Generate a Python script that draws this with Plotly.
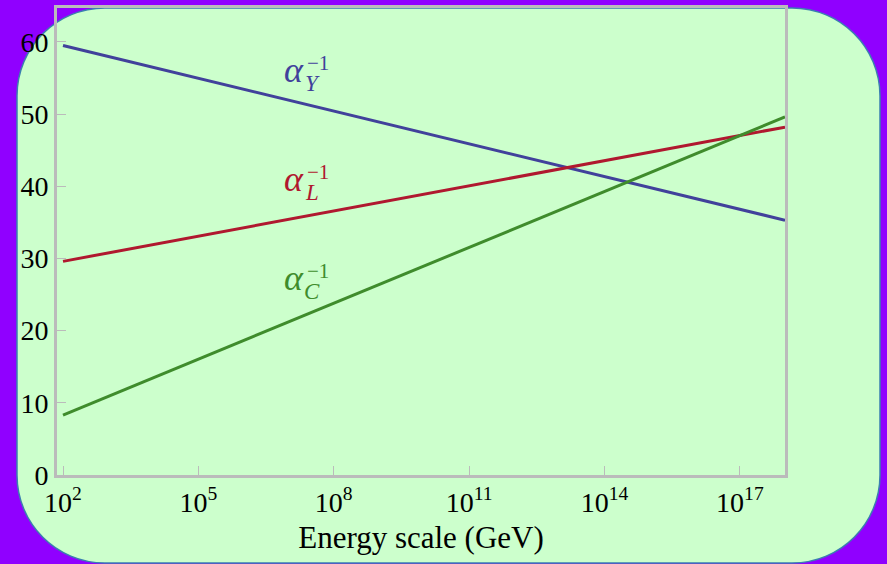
import plotly.graph_objects as go

# ---- data ----
energy = [1e2, 1e18]
alpha_Y_inv = [59.5, 35.3]
alpha_L_inv = [29.6, 48.2]
alpha_C_inv = [8.3, 49.6]
x_tick_vals = [1e2, 1e5, 1e8, 1e11, 1e14, 1e17]
x_tick_text = ["10<sup>2</sup>", "10<sup>5</sup>", "10<sup>8</sup>",
               "10<sup>11</sup>", "10<sup>14</sup>", "10<sup>17</sup>"]
y_tick_vals = [0, 10, 20, 30, 40, 50, 60]

W, H = 887, 564
L, R, T, B = 57, 785, 8, 475  # plot area in pixels
FONT = "Liberation Serif"

def px(x):
    return (x - L) / (R - L)

def py(y):
    return (B - y) / (B - T)

BLUE = "#41419b"
RED = "#b0182f"
GREEN = "#3f8c2c"

fig = go.Figure()
for ys, c in [(alpha_Y_inv, BLUE), (alpha_L_inv, RED), (alpha_C_inv, GREEN)]:
    fig.add_trace(go.Scatter(x=energy, y=ys, mode="lines",
                             line=dict(color=c, width=3), showlegend=False,
                             hoverinfo="skip"))

# rounded background panel
x0, x1, y0, y1, r = 17, 880, 8, 563, 88
k = 0.5523 * r
def P(x, y):
    return f"{px(x):.5f},{py(y):.5f}"
path = (f"M {P(x0 + r, y0)} L {P(x1 - r, y0)} "
        f"C {P(x1 - r + k, y0)} {P(x1, y0 + r - k)} {P(x1, y0 + r)} "
        f"L {P(x1, y1 - r)} "
        f"C {P(x1, y1 - r + k)} {P(x1 - r + k, y1)} {P(x1 - r, y1)} "
        f"L {P(x0 + r, y1)} "
        f"C {P(x0 + r - k, y1)} {P(x0, y1 - r + k)} {P(x0, y1 - r)} "
        f"L {P(x0, y0 + r)} "
        f"C {P(x0, y0 + r - k)} {P(x0 + r - k, y0)} {P(x0 + r, y0)} Z")
fig.add_shape(type="path", path=path, xref="paper", yref="paper",
              fillcolor="#ccffcc", line=dict(color="#3a7fb0", width=1.5),
              layer="below")

# labels
labels = [("Y", BLUE, 73), ("L", RED, 182), ("C", GREEN, 281)]
for sub, c, yc in labels:
    fig.add_annotation(x=px(294), y=py(yc - 3), xref="paper", yref="paper",
                       text="<i>α</i>", showarrow=False,
                       font=dict(family=FONT, size=36, color=c),
                       xanchor="center", yanchor="middle")
    fig.add_annotation(x=px(318), y=py(yc - 10), xref="paper", yref="paper",
                       text="−1", showarrow=False,
                       font=dict(family=FONT, size=21, color=c),
                       xanchor="center", yanchor="middle")
    fig.add_annotation(x=px(312), y=py(yc + 10), xref="paper", yref="paper",
                       text=f"<i>{sub}</i>", showarrow=False,
                       font=dict(family=FONT, size=23, color=c),
                       xanchor="center", yanchor="middle")

axis_common = dict(showline=True, linecolor="#bbbbbb", linewidth=3,
                   mirror=True, ticks="inside", ticklen=9, tickwidth=1,
                   tickcolor="#bbbbbb", showgrid=False, zeroline=False,
                   tickfont=dict(family=FONT, size=28, color="black"))

fig.update_xaxes(type="log", range=[1.867, 18.0], tickvals=x_tick_vals,
                 ticktext=x_tick_text,
                 title=dict(text="Energy scale (GeV)",
                            font=dict(family=FONT, size=31, color="black"),
                            standoff=10),
                 **axis_common)
fig.update_yaxes(range=[0, 64.7], tickvals=y_tick_vals, **axis_common)

fig.update_layout(width=W, height=H,
                  margin=dict(l=L, r=W - R, t=T, b=H - B, autoexpand=False),
                  paper_bgcolor="#9000ff", plot_bgcolor="rgba(0,0,0,0)")

fig.write_html("out.html")
